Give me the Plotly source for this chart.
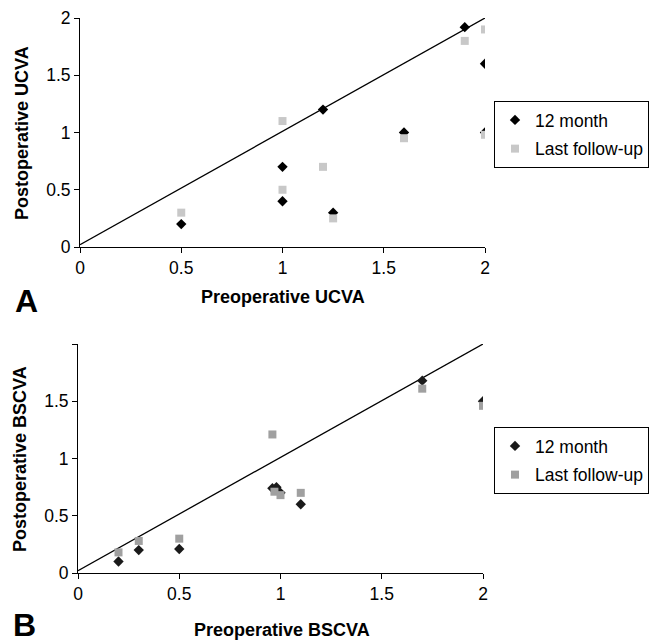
import plotly.graph_objects as go

# Panel A (UCVA)
a_12_x = [0.5, 1.0, 1.0, 1.2, 1.25, 1.6, 1.9, 2.0, 2.0]
a_12_y = [0.2, 0.7, 0.4, 1.2, 0.3, 1.0, 1.92, 1.6, 1.0]
a_last_x = [0.5, 1.0, 1.0, 1.2, 1.25, 1.6, 1.9, 2.0, 2.0]
a_last_y = [0.3, 1.1, 0.5, 0.7, 0.25, 0.95, 1.8, 1.9, 0.98]

# Panel B (BSCVA)
b_12_x = [0.2, 0.3, 0.5, 0.96, 0.98, 1.0, 1.1, 1.7, 2.0]
b_12_y = [0.1, 0.2, 0.21, 0.74, 0.75, 0.7, 0.6, 1.68, 1.5]
b_last_x = [0.2, 0.3, 0.5, 0.96, 0.97, 1.0, 1.1, 1.7, 2.0]
b_last_y = [0.18, 0.28, 0.3, 1.21, 0.71, 0.68, 0.7, 1.61, 1.46]

diag_x = [0, 2]
diag_y = [0.02, 2]

tick_vals = [0, 0.5, 1, 1.5, 2]
tick_text_a = ["0", "0.5", "1", "1.5", "2"]
tick_text_b_y = ["0", "0.5", "1", "1.5", ""]

FONT = "Liberation Sans, Arial, sans-serif"

fig = go.Figure()

# Panel A traces
fig.add_trace(go.Scatter(x=diag_x, y=diag_y, mode="lines", line=dict(color="black", width=1.3),
                         showlegend=False, hoverinfo="skip", xaxis="x", yaxis="y"))
fig.add_trace(go.Scatter(x=a_12_x, y=a_12_y, mode="markers", name="12 month",
                         marker=dict(symbol="diamond", size=8, color="black"),
                         xaxis="x", yaxis="y", legend="legend", legendgroup="a1"))
fig.add_trace(go.Scatter(x=a_last_x, y=a_last_y, mode="markers", name="Last follow-up",
                         marker=dict(symbol="square", size=8, color="#c8c8c8"),
                         xaxis="x", yaxis="y", legend="legend", legendgroup="a2"))

# Panel B traces
fig.add_trace(go.Scatter(x=diag_x, y=diag_y, mode="lines", line=dict(color="black", width=1.3),
                         showlegend=False, hoverinfo="skip", xaxis="x2", yaxis="y2"))
fig.add_trace(go.Scatter(x=b_12_x, y=b_12_y, mode="markers", name="12 month",
                         marker=dict(symbol="diamond", size=8, color="#1a1a1a"),
                         xaxis="x2", yaxis="y2", legend="legend2", legendgroup="b1"))
fig.add_trace(go.Scatter(x=b_last_x, y=b_last_y, mode="markers", name="Last follow-up",
                         marker=dict(symbol="square", size=8, color="#a0a0a0"),
                         xaxis="x2", yaxis="y2", legend="legend2", legendgroup="b2"))

W, H = 658, 642

def px_x(p):
    return p / W

def px_y(p):
    return 1 - p / H

axis_common = dict(range=[0, 2], showgrid=False, zeroline=False, showline=True,
                   linecolor="black", linewidth=1, ticks="outside", ticklen=5,
                   tickcolor="black", tickwidth=1, tickvals=tick_vals, automargin=False,
                   tickfont=dict(family=FONT, size=17.5, color="black"), fixedrange=True)

legend_common = dict(xanchor="right", yanchor="top", bordercolor="black", borderwidth=1,
                     bgcolor="white", font=dict(family=FONT, size=17.5, color="black"),
                     itemwidth=30, traceorder="grouped", tracegroupgap=3)

fig.update_layout(
    width=W, height=H,
    margin=dict(l=0, r=0, t=0, b=0, autoexpand=False),
    paper_bgcolor="white", plot_bgcolor="white",
    font=dict(family=FONT, color="black"),
    xaxis=dict(domain=[px_x(80), px_x(485)], anchor="y", ticktext=tick_text_a, **axis_common),
    yaxis=dict(domain=[px_y(247), px_y(18)], anchor="x", ticktext=tick_text_a, **axis_common),
    xaxis2=dict(domain=[px_x(78), px_x(483)], anchor="y2", ticktext=tick_text_a, **axis_common),
    yaxis2=dict(domain=[px_y(573), px_y(344)], anchor="x2", ticktext=tick_text_b_y, **axis_common),
    legend=dict(x=px_x(649), y=px_y(101), **legend_common),
    legend2=dict(x=px_x(649), y=px_y(427), **legend_common),
    annotations=[
        dict(text="<b>A</b>", x=px_x(13), y=px_y(301), xref="paper", yref="paper",
             xanchor="left", yanchor="middle", showarrow=False,
             font=dict(family=FONT, size=32, color="black")),
        dict(text="<b>B</b>", x=px_x(11), y=px_y(625), xref="paper", yref="paper",
             xanchor="left", yanchor="middle", showarrow=False,
             font=dict(family=FONT, size=32, color="black")),
        dict(text="<b>Preoperative UCVA</b>", x=px_x(283), y=px_y(297), xref="paper", yref="paper",
             xanchor="center", yanchor="middle", showarrow=False,
             font=dict(family=FONT, size=18, color="black")),
        dict(text="<b>Preoperative BSCVA</b>", x=px_x(282), y=px_y(630), xref="paper", yref="paper",
             xanchor="center", yanchor="middle", showarrow=False,
             font=dict(family=FONT, size=18, color="black")),
        dict(text="<b>Postoperative UCVA</b>", x=px_x(22), y=px_y(133), xref="paper", yref="paper",
             xanchor="center", yanchor="middle", showarrow=False, textangle=-90,
             font=dict(family=FONT, size=18, color="black")),
        dict(text="<b>Postoperative BSCVA</b>", x=px_x(20), y=px_y(459), xref="paper", yref="paper",
             xanchor="center", yanchor="middle", showarrow=False, textangle=-90,
             font=dict(family=FONT, size=18, color="black")),
    ],
)

fig.write_html("out.html", config={"displayModeBar": False},
               post_script="document.body.style.margin='0';document.body.style.overflow='hidden';")
